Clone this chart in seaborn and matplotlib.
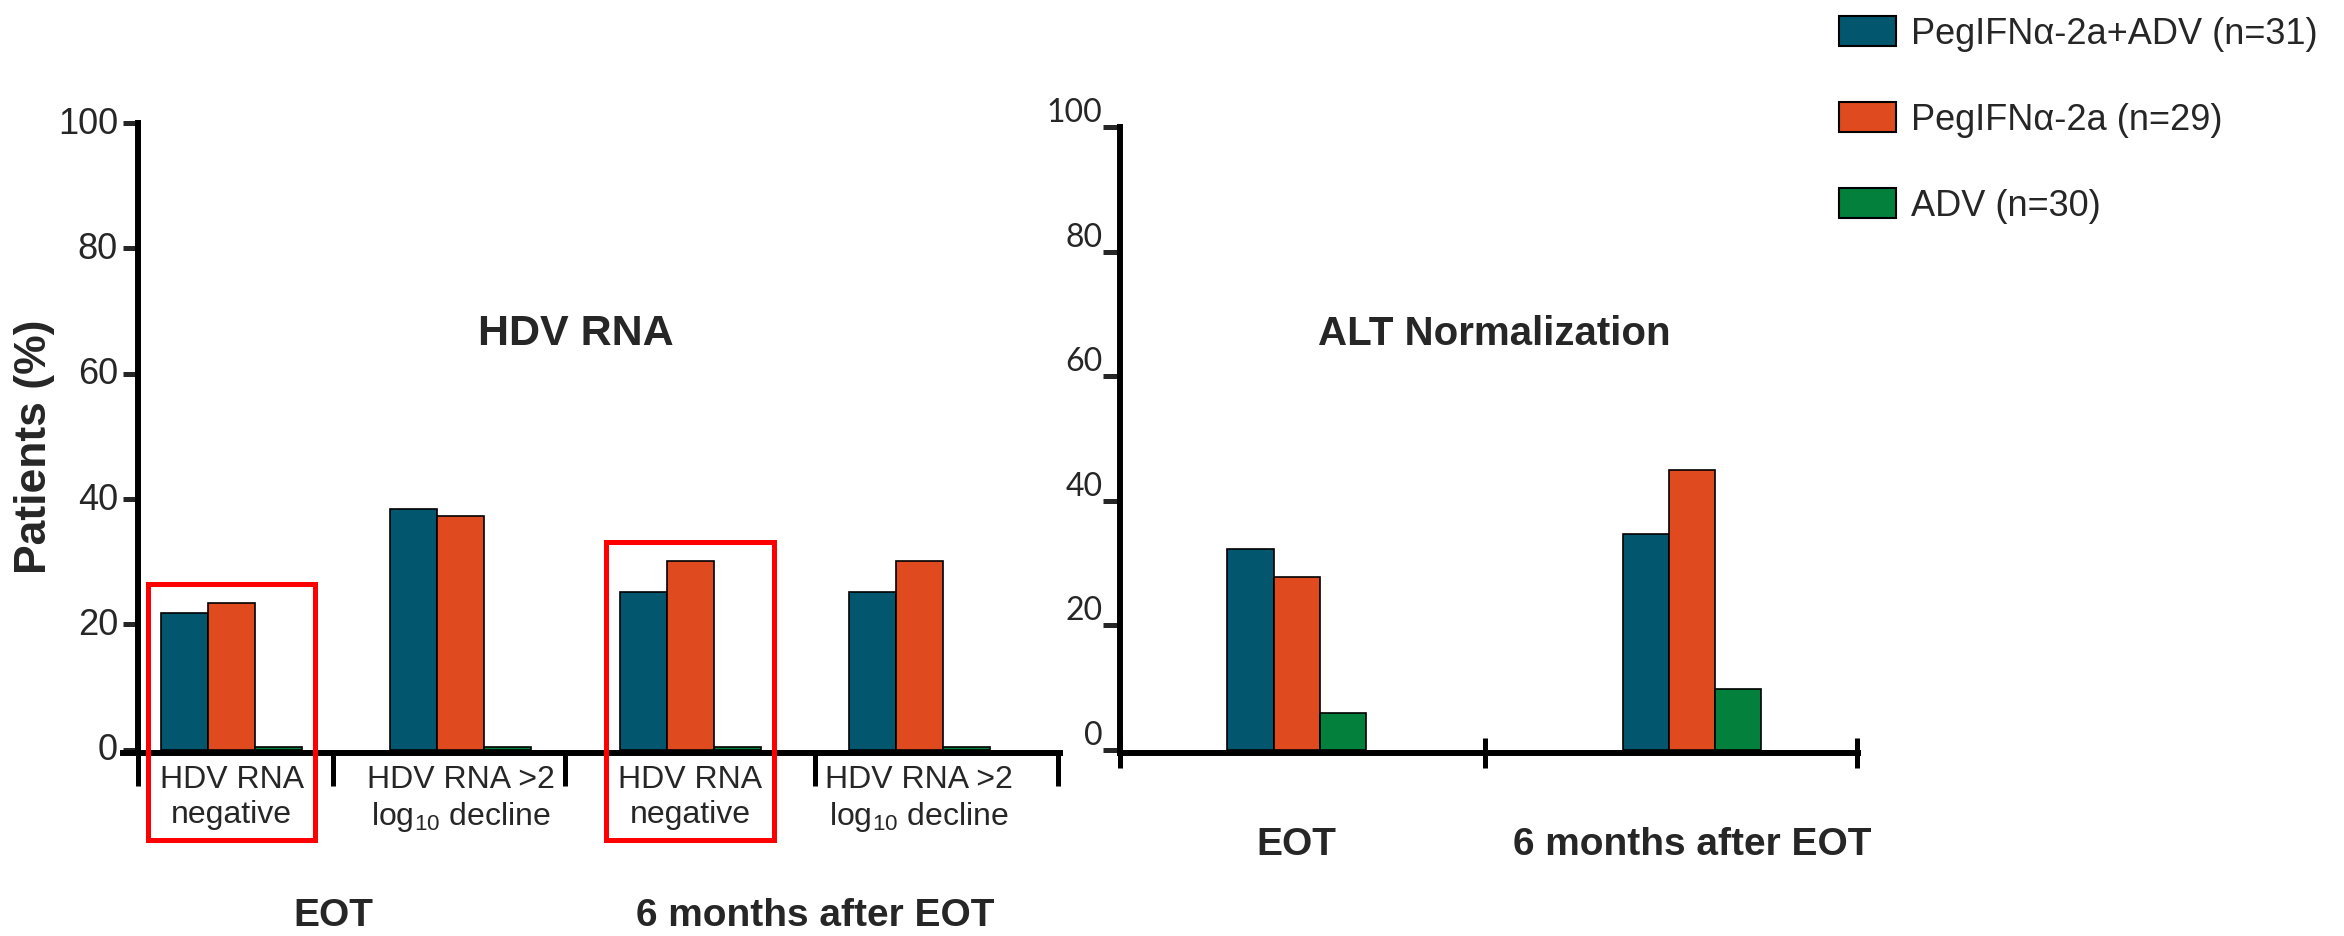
import numpy as np
import pandas as pd
import matplotlib
matplotlib.use("Agg")
import matplotlib.pyplot as plt
import matplotlib.transforms as mtransforms
from matplotlib.patches import Rectangle, Patch
import seaborn as sns

# ---- data -------------------------------------------------------------
arm_labels = ["PegIFNα-2a+ADV (n=31)", "PegIFNα-2a (n=29)", "ADV (n=30)"]
arm_colors = ["#02576F", "#E04A1F", "#03803C"]

# HDV RNA response (% of patients)
hdv_slots = ["eot_neg", "eot_decl", "m6_neg", "m6_decl"]
hdv_tick_labels = ["HDV RNA\nnegative", "HDV RNA >2\nlog$_{10}$ decline",
                   "HDV RNA\nnegative", "HDV RNA >2\nlog$_{10}$ decline"]
hdv_combo = [21.8, 38.4, 25.2, 25.2]
hdv_peg = [23.4, 37.3, 30.1, 30.1]
hdv_adv = [0.5, 0.5, 0.5, 0.5]
hdv_highlight = [0, 2]
hdv_timepoints = ["EOT", "6 months after EOT"]

# ALT normalization (% of patients)
alt_slots = ["EOT", "6 months after EOT"]
alt_combo = [32.2, 34.7]
alt_peg = [27.8, 45.0]
alt_adv = [6.0, 9.8]

y_ticks = [0, 20, 40, 60, 80, 100]

# ---- style ------------------------------------------------------------
sns.set_style("white")
plt.rcParams["font.family"] = ["Liberation Sans", "DejaVu Sans"]
plt.rcParams["mathtext.fontset"] = "custom"
plt.rcParams["mathtext.rm"] = "Liberation Sans"
plt.rcParams["mathtext.it"] = "Liberation Sans:italic"
plt.rcParams["mathtext.bf"] = "Liberation Sans:bold"

W, H = 2344, 937
fig = plt.figure(figsize=(W / 100, H / 100), dpi=100)
ax1 = fig.add_axes([123 / W, 1 - 754 / H, 937 / W, 630 / H])
ax2 = fig.add_axes([1120 / W, 1 - 754 / H, 738 / W, 626 / H])


def long_frame(slots, series):
    return pd.DataFrame({
        "slot": np.tile(slots, len(series)),
        "pct": np.concatenate([np.asarray(s, float) for s in series]),
        "arm": np.repeat(arm_labels, len(slots)),
    })


df_hdv = long_frame(hdv_slots, [hdv_combo, hdv_peg, hdv_adv])
df_alt = long_frame(alt_slots, [alt_combo, alt_peg, alt_adv])

bar_kw = dict(x="slot", y="pct", hue="arm", hue_order=arm_labels,
              palette=arm_colors, saturation=1, gap=0, errorbar=None,
              edgecolor="black", linewidth=1.2, legend=False)
sns.barplot(data=df_hdv, order=hdv_slots, width=0.615, ax=ax1, **bar_kw)
sns.barplot(data=df_alt, order=alt_slots, width=0.351, ax=ax2, **bar_kw)

spine_lw = 4.3
for ax in (ax1, ax2):
    ax.set_xlabel("")
    ax.set_ylabel("")
    ax.spines["top"].set_visible(False)
    ax.spines["right"].set_visible(False)
    for s in ("left", "bottom"):
        ax.spines[s].set_linewidth(spine_lw)
        ax.spines[s].set_color("black")
    ax.set_ylim(-0.5, 100)
    ax.set_yticks(y_ticks)

# ---- left panel: HDV RNA ---------------------------------------------
hdv_separators = [-0.409, 0.442, 1.454, 2.545, 3.605]
ax1.set_xlim(-0.474, 3.614)
ax1.spines["left"].set_position(("data", hdv_separators[0]))
ax1.set_xticks(hdv_separators, labels=[""] * len(hdv_separators))
ax1.set_xticks(range(len(hdv_slots)), labels=hdv_tick_labels, minor=True)
ax1.tick_params(axis="x", which="major", direction="out", length=23.8,
                width=3.6, color="black", bottom=True)
ax1.tick_params(axis="x", which="minor", length=0, pad=8, labelsize=23,
                bottom=True)
ax1.tick_params(axis="y", direction="out", length=10.8, width=3.6,
                pad=3.6, labelsize=26, left=True)

ax1.text(1.5, 66.5, "HDV RNA", ha="center", va="center",
         fontsize=31, fontweight="bold")
for k, label in enumerate(hdv_timepoints):
    ax1.text(hdv_separators[1 + 2 * k], -0.257, label,
             transform=ax1.get_xaxis_transform(), ha="center", va="center",
             fontsize=28, fontweight="bold")

box_bottom = -14.4
for i in hdv_highlight:
    top = max(hdv_combo[i], hdv_peg[i], hdv_adv[i]) + 3.0
    ax1.add_patch(Rectangle((i - 0.365, box_bottom), 0.73, top - box_bottom,
                            fill=False, edgecolor="#FF0000", linewidth=3.6,
                            clip_on=False, zorder=5))

fig.text(35 / W, 1 - 447 / H, "Patients (%)", rotation=90, ha="center",
         va="center", fontsize=32, fontweight="bold")

# ---- right panel: ALT normalization ----------------------------------
alt_separators = [-0.447, 0.477, 1.417]
ax2.set_xlim(-0.447, 1.42)
ax2.set_xticks(alt_separators, labels=[""] * len(alt_separators))
ax2.tick_params(axis="x", which="major", direction="inout", length=22,
                width=3.6, color="black", bottom=True)
ax2.tick_params(axis="y", direction="out", length=12, width=3.6,
                pad=0.7, labelsize=23, left=True)
ax2.text(0.5, 66.9, "ALT Normalization", ha="center", va="center",
         fontsize=29, fontweight="bold")
for i, label in enumerate(alt_slots):
    ax2.text(i, -0.146, label, transform=ax2.get_xaxis_transform(),
             ha="center", va="center", fontsize=28, fontweight="bold")

# ---- legend ------------------------------------------------------------
handles = [Patch(facecolor=c, edgecolor="black", linewidth=1.5)
           for c in arm_colors]
fig.legend(handles, arm_labels, loc="upper left",
           bbox_to_anchor=(1839 / W, 1 - 17 / H), frameon=False, fontsize=26,
           handlelength=1.58, handleheight=0.89, handletextpad=0.42,
           labelspacing=1.4, borderpad=0, borderaxespad=0)

# y tick labels sit slightly above their ticks
for lab in ax1.get_yticklabels():
    lab.set_transform(lab.get_transform() + mtransforms.ScaledTranslation(
        0, 0.04, fig.dpi_scale_trans))
for lab in ax2.get_yticklabels():
    lab.set_fontfamily(["Lato", "Liberation Sans"])
    lab.set_transform(lab.get_transform() + mtransforms.ScaledTranslation(
        0, 0.18, fig.dpi_scale_trans))

fig.savefig("out.png", dpi=100, facecolor="white")
